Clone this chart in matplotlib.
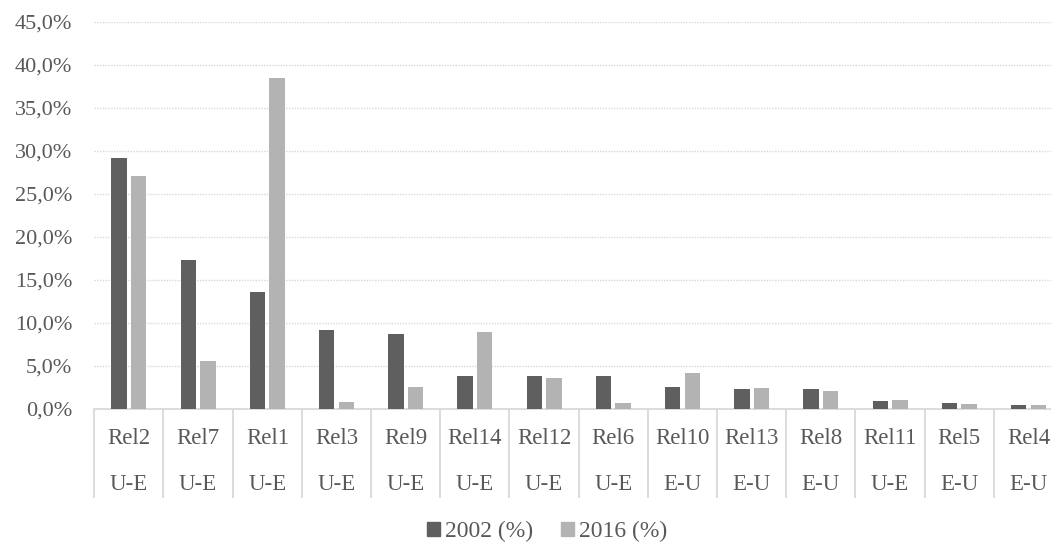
import matplotlib
matplotlib.use("Agg")
import matplotlib.pyplot as plt
import numpy as np
from matplotlib.ticker import FuncFormatter, FixedLocator
from matplotlib.patches import Patch

# relations, direction and shares per year
relations = ["Rel2", "Rel7", "Rel1", "Rel3", "Rel9", "Rel14", "Rel12",
             "Rel6", "Rel10", "Rel13", "Rel8", "Rel11", "Rel5", "Rel4"]
direction = ["U-E", "U-E", "U-E", "U-E", "U-E", "U-E", "U-E",
             "U-E", "E-U", "E-U", "E-U", "U-E", "E-U", "E-U"]
share_2002 = [29.2, 17.3, 13.6, 9.2, 8.7, 3.8, 3.8, 3.8, 2.6, 2.3, 2.3, 0.9, 0.75, 0.45]
share_2016 = [27.1, 5.6, 38.5, 0.8, 2.6, 8.9, 3.6, 0.7, 4.2, 2.5, 2.1, 1.0, 0.55, 0.45]

c_dark = "#5f5f5f"
c_light = "#b3b3b3"
txt = "#595959"
grid_c = "#d9d9d9"

plt.rcParams["font.family"] = ["Liberation Serif", "DejaVu Serif"]

fig = plt.figure(figsize=(10.51, 5.43), dpi=100)
ax = fig.add_axes([94.3 / 1051, 1 - 409 / 543, 968.8 / 1051, 387 / 543])

x = np.arange(len(relations))
w = 0.224
off = 0.141
ax.bar(x - off, share_2002, w, color=c_dark, zorder=3)
ax.bar(x + off, share_2016, w, color=c_light, zorder=3)

ax.set_xlim(-0.5, len(relations) - 0.5)
ax.set_ylim(0, 45)
ax.set_yticks(np.arange(0, 46, 5))
ax.yaxis.set_major_formatter(FuncFormatter(lambda v, p: f"{v:.1f}%".replace(".", ",")))
ax.grid(axis="y", color=grid_c, linestyle=(0, (1, 1)), linewidth=1, zorder=0)

for s in ["top", "right", "left"]:
    ax.spines[s].set_visible(False)
ax.spines["bottom"].set_color(grid_c)
ax.spines["bottom"].set_linewidth(1.3)

# two-level category labels, separators as long minor ticks
ax.set_xticks(x)
ax.set_xticklabels([])
ax.xaxis.set_minor_locator(FixedLocator(np.arange(-0.5, len(relations), 1)))
ax.tick_params(axis="x", which="major", length=0)
ax.tick_params(axis="x", which="minor", length=64, width=1.3, color=grid_c, direction="out")
ax.tick_params(axis="y", length=0, pad=16, labelsize=16, labelcolor=txt)

tr = ax.get_xaxis_transform()
for xi, r, d in zip(x, relations, direction):
    ax.text(xi, -0.0775, r, transform=tr, ha="center", va="center",
            fontsize=16.5, color=txt, clip_on=False)
    ax.text(xi, -0.196, d, transform=tr, ha="center", va="center",
            fontsize=16.5, color=txt, clip_on=False)

handles = [Patch(color=c_dark, label="2002 (%)"), Patch(color=c_light, label="2016 (%)")]
fig.legend(handles=handles, loc="center", bbox_to_anchor=(547 / 1051, 1 - 531.7 / 543),
           ncol=2, frameon=False, fontsize=17, handlelength=0.55, handleheight=0.55,
           handletextpad=0.2, columnspacing=1.2, labelcolor=txt)

fig.savefig("out.png", dpi=100)
